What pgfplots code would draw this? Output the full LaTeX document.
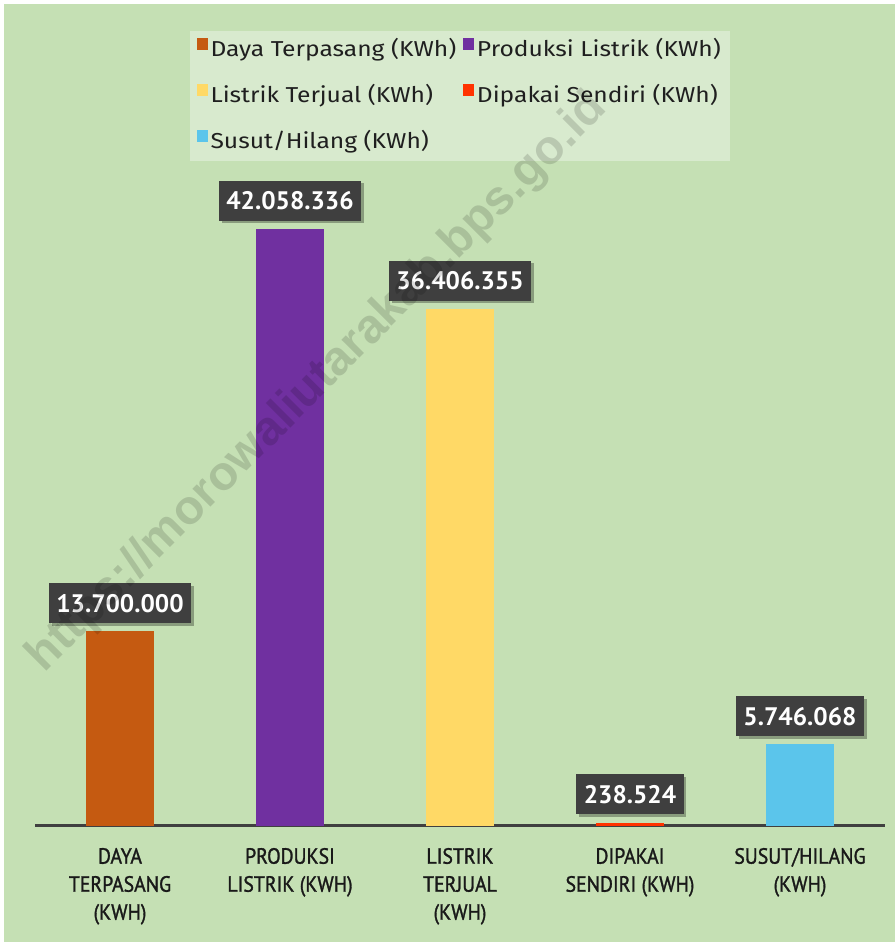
\documentclass[border=0pt]{standalone}
\usepackage{fontspec}
\usepackage{pgfplots}
\pgfplotsset{compat=1.18}
\usetikzlibrary{shadows}
\setmainfont{PT Sans}
\newfontfamily\legfont[FakeStretch=1.14]{Fira Sans}
\newfontfamily\tickfont[FakeStretch=0.9,FakeBold=1.3]{PT Sans}
\newfontfamily\wmfont{Liberation Sans}

\definecolor{bggreen}{HTML}{C5E0B4}
\definecolor{legfill}{HTML}{D8EACE}
\definecolor{axisgray}{HTML}{404040}
\definecolor{labelgray}{HTML}{3F3F3F}
\definecolor{cOrange}{HTML}{C55A11}
\definecolor{cPurple}{HTML}{7030A0}
\definecolor{cYellow}{HTML}{FFD966}
\definecolor{cRed}{HTML}{FF3300}
\definecolor{cBlue}{HTML}{5BC5EB}

\pgfplotsset{
  sqleg/.style={legend image code/.code={\fill[##1] (0pt,0.5pt) rectangle (8.5pt,9pt);}},
}

\begin{document}
\begin{tikzpicture}[x=0.75pt,y=0.75pt]
\fill[white] (0,0) rectangle (895,942);
\fill[bggreen] (4,0) rectangle (895,938);
\begin{axis}[
  at={(26.25pt,87pt)}, anchor=south west,
  scale only axis, width=637.5pt, height=616.5pt,
  xmin=-0.5, xmax=4.5, ymin=0, ymax=57.89e6,
  axis y line=none, axis x line*=bottom,
  x axis line style={line width=2.25pt, color=axisgray, -},
  ybar, bar width=51pt, bar shift=0pt,
  xtick={0,1,2,3,4}, major tick length=0pt,
  xticklabels={{DAYA\\TERPASANG\\(KWH)}, {PRODUKSI\\LISTRIK (KWH)}, {LISTRIK\\TERJUAL\\(KWH)}, {DIPAKAI\\SENDIRI (KWH)}, {SUSUT/HILANG\\(KWH)}},
  xticklabel style={align=center, font=\tickfont\fontsize{16.5}{21}\selectfont, text=black!90, anchor=north, yshift=-13pt},
  point meta=explicit symbolic,
  nodes near coords,
  nodes near coords style={anchor=south, yshift=6pt, fill=labelgray, text=white,
    font=\bfseries\fontsize{19}{20}\selectfont, inner xsep=5.5pt, inner ysep=0pt,
    minimum height=30pt,
    drop shadow={shadow xshift=2pt, shadow yshift=-2pt, opacity=0.3, fill=black}},
  legend columns=2,
  legend cell align=left,
  legend style={at={(0.5,0.967)}, anchor=north, fill=legfill, draw=none,
    inner sep=5pt, row sep=16pt,
    font=\legfont\fontsize{16.2}{17}\selectfont, text=black!88,
    nodes={inner sep=2pt, text height=11.5pt, text depth=3pt},
    /tikz/every even column/.append style={column sep=3pt}},
]
\addplot[fill=cOrange, draw=none, sqleg] coordinates {(0,13700000) [13.700.000]};
\addlegendentry{Daya Terpasang (KWh)}
\addplot[fill=cPurple, draw=none, sqleg] coordinates {(1,42058336) [42.058.336]};
\addlegendentry{Produksi Listrik (KWh)}
\addplot[fill=cYellow, draw=none, sqleg] coordinates {(2,36406355) [36.406.355]};
\addlegendentry{Listrik Terjual (KWh)}
\addplot[fill=cRed, draw=none, sqleg] coordinates {(3,238524) [238.524]};
\addlegendentry{Dipakai Sendiri (KWh)}
\addplot[fill=cBlue, draw=none, sqleg] coordinates {(4,5746068) [5.746.068]};
\addlegendentry{Susut/Hilang (KWh)}
\end{axis}
\node[rotate=45, text=black, opacity=0.14, font=\wmfont\bfseries\fontsize{36}{36}\selectfont]
  at (318,559) {https://morowaliutarakab.bps.go.id};
\end{tikzpicture}
\end{document}
